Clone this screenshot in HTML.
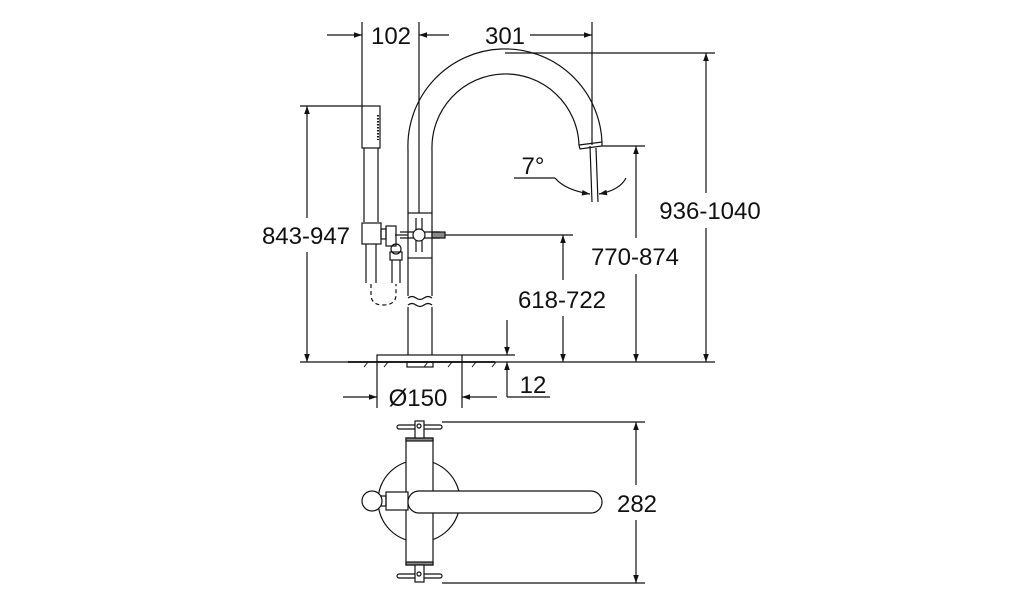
<!DOCTYPE html>
<html><head><meta charset="utf-8"><style>
html,body{margin:0;padding:0;background:#fff;}
svg{display:block;}
text{font-family:"Liberation Sans",sans-serif;font-size:24px;fill:#111;}
</style></head><body>
<svg width="1014" height="600" viewBox="0 0 1014 600" xmlns="http://www.w3.org/2000/svg">
<defs>
<marker id="a" viewBox="0 0 10 10" refX="10" refY="5" markerWidth="10" markerHeight="8" orient="auto-start-reverse" markerUnits="userSpaceOnUse"><path d="M0,1.5 L10,5 L0,8.5 z" fill="#111"/></marker>
</defs>
<g stroke="#111" stroke-width="1.2" fill="none">
<line x1="362" y1="22" x2="362" y2="106"/>
<line x1="419" y1="22" x2="419" y2="213"/>
<line x1="592" y1="22" x2="592" y2="145"/>
<line x1="327" y1="35" x2="362" y2="35" marker-end="url(#a)"/>
<line x1="449" y1="35" x2="419" y2="35" marker-end="url(#a)"/>
<line x1="530" y1="35" x2="592" y2="35" marker-end="url(#a)"/>
<line x1="505" y1="53" x2="715" y2="53"/>
<line x1="706" y1="53" x2="706" y2="193" marker-start="url(#a)"/>
<line x1="706" y1="228" x2="706" y2="362" marker-end="url(#a)"/>
<line x1="602" y1="146" x2="645" y2="146"/>
<line x1="636" y1="146" x2="636" y2="238" marker-start="url(#a)"/>
<line x1="636" y1="274" x2="636" y2="362" marker-end="url(#a)"/>
<line x1="445" y1="235" x2="573" y2="235"/>
<line x1="563" y1="235" x2="563" y2="280" marker-start="url(#a)"/>
<line x1="563" y1="316" x2="563" y2="362" marker-end="url(#a)"/>
<line x1="300" y1="106" x2="362" y2="106"/>
<line x1="307" y1="106" x2="307" y2="218" marker-start="url(#a)"/>
<line x1="307" y1="252" x2="307" y2="362" marker-end="url(#a)"/>
<line x1="300" y1="362" x2="715" y2="362"/>
<line x1="348" y1="362" x2="495" y2="362" stroke-width="1.8"/>
<g stroke-width="1">
<line x1="368" y1="362" x2="364" y2="367"/><line x1="388" y1="362" x2="384" y2="367"/><line x1="428" y1="362" x2="424" y2="367"/><line x1="452" y1="362" x2="448" y2="367"/><line x1="476" y1="362" x2="472" y2="367"/><line x1="496" y1="362" x2="492" y2="367"/>
</g>
<line x1="462" y1="355" x2="515" y2="355"/>
<line x1="507" y1="320" x2="507" y2="355" marker-end="url(#a)"/>
<line x1="507" y1="397" x2="507" y2="362" marker-end="url(#a)"/>
<line x1="507" y1="397" x2="550" y2="397"/>
<line x1="377" y1="362" x2="377" y2="408"/>
<line x1="462" y1="362" x2="462" y2="408"/>
<line x1="343" y1="397" x2="377" y2="397" marker-end="url(#a)"/>
<line x1="497" y1="397" x2="462" y2="397" marker-end="url(#a)"/>
<rect x="377" y="355" width="85" height="7"/>
<rect x="407" y="362" width="26" height="5"/>
<line x1="408" y1="258" x2="408" y2="296"/>
<line x1="432" y1="258" x2="432" y2="296"/>
<path d="M408,298 q4,-3 8,0 t8,0 t8,0"/>
<path d="M408,305 q4,-3 8,0 t8,0 t8,0"/>
<line x1="408" y1="307" x2="408" y2="355"/>
<line x1="432" y1="307" x2="432" y2="355"/>
<path d="M408,213 L408,150 A97,97 0 0 1 602,142"/>
<path d="M432,213 L432,150 A73,73 0 0 1 579,145"/>
<path d="M579,145 L602,142 L602,146 L580,149 Z"/>
<rect x="408" y="213" width="24" height="45"/>
<line x1="395" y1="235" x2="408" y2="235"/>
<rect x="432" y="232" width="13" height="6" fill="#888"/>
<line x1="400" y1="232" x2="440" y2="232"/><line x1="400" y1="238" x2="440" y2="238"/>
<line x1="416" y1="218" x2="416" y2="252"/><line x1="422" y1="218" x2="422" y2="252"/>
<circle cx="419" cy="235" r="6" fill="#fff"/>
<rect x="386" y="226" width="10" height="20"/>
<rect x="362" y="106" width="18" height="42"/>
<line x1="378" y1="115" x2="378" y2="140" stroke-dasharray="1.5 1.5" stroke-width="2"/>
<line x1="364" y1="148" x2="364" y2="222"/><line x1="378" y1="148" x2="378" y2="222"/>
<rect x="362" y="223" width="19" height="21"/>
<rect x="381" y="229" width="5" height="10"/>
<line x1="366" y1="244" x2="366" y2="283"/><line x1="376" y1="244" x2="376" y2="283"/>
<circle cx="396" cy="249" r="5"/>
<rect x="390" y="252" width="12" height="8"/>
<line x1="392" y1="260" x2="392" y2="283"/><line x1="400" y1="260" x2="400" y2="283"/>
<path d="M371,284 L371,296 Q372,305 383,305 Q395,305 396,296 L396,284" stroke-dasharray="4 3"/>
<line x1="590" y1="146" x2="592" y2="202"/>
<line x1="596" y1="148" x2="598" y2="202"/>
<line x1="514" y1="178" x2="555" y2="178"/>
<path d="M555,178 Q565,190 590,194" marker-end="url(#a)"/>
<path d="M626,178 Q620,190 599,194" marker-end="url(#a)"/>
<line x1="442" y1="422" x2="645" y2="422"/>
<line x1="442" y1="583" x2="645" y2="583"/>
<line x1="636" y1="422" x2="636" y2="485" marker-start="url(#a)"/>
<line x1="636" y1="520" x2="636" y2="583" marker-end="url(#a)"/>
<circle cx="419" cy="501" r="41"/>
<rect x="406" y="438" width="27" height="127" fill="#fff"/>
<rect x="406" y="438" width="27" height="3" fill="#888"/>
<rect x="406" y="562" width="27" height="3" fill="#888"/>
<rect x="397" y="425" width="45" height="4" rx="2" fill="#fff"/>
<rect x="415" y="421" width="9" height="17" fill="#fff"/>
<circle cx="419" cy="426" r="2"/>
<rect x="397" y="574" width="45" height="4" rx="2" fill="#fff"/>
<rect x="415" y="565" width="9" height="17" fill="#fff"/>
<circle cx="419" cy="574" r="2"/>
<rect x="386" y="492" width="22" height="18" fill="#fff"/>
<rect x="381" y="496" width="5" height="10"/>
<circle cx="372" cy="501" r="10" fill="#fff"/>
<rect x="408" y="491" width="194" height="22" rx="11" fill="#fff"/>
</g>
<text x="391" y="44" text-anchor="middle">102</text>
<text x="505" y="44" text-anchor="middle">301</text>
<text x="710" y="219" text-anchor="middle">936-1040</text>
<text x="635" y="265" text-anchor="middle">770-874</text>
<text x="562" y="308" text-anchor="middle">618-722</text>
<text x="306" y="244" text-anchor="middle">843-947</text>
<text x="533" y="174" text-anchor="middle">7°</text>
<text x="533" y="393" text-anchor="middle">12</text>
<text x="418" y="406" text-anchor="middle">Ø150</text>
<text x="637" y="512" text-anchor="middle">282</text>
</svg>
</body></html>
